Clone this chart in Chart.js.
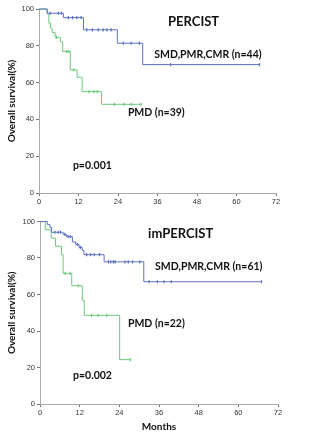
<!DOCTYPE html>
<html>
<head>
<meta charset="utf-8">
<script src="https://cdn.jsdelivr.net/npm/chart.js@4.4.0/dist/chart.umd.min.js"></script>
<style>
  html, body { margin: 0; padding: 0; background: #fff; }
  #wrap { position: relative; width: 330px; height: 440px; }
  canvas { position: absolute; left: 0; }
</style>
</head>
<body>
<div id="wrap">
  <canvas id="chartTop" width="330" height="215" style="top:0"></canvas>
  <canvas id="chartBottom" width="330" height="225" style="top:215px"></canvas>
</div>
<script>
// Eixos
const monthTicks = [0, 12, 24, 36, 48, 60, 72];
const survTicks = [0, 20, 40, 60, 80, 100];

// PERCIST - SMD,PMR,CMR (n=44)
const pGoodTimes = [0, 2.5, 7.4, 13.5, 23.8, 31.5];
const pGoodSurv = [100, 97.7, 95.3, 88.7, 81.4, 69.8];
const pGoodCensor = [3.4, 5.9, 6.8, 8.9, 10.2, 11.5, 12.8, 14.5, 16.2, 18, 19.5, 20.6, 21.9, 25.6, 28, 30.5, 40, 67];

// PERCIST - PMD (n=39)
const pPmdTimes = [0, 2.5, 3.0, 3.5, 4.0, 4.9, 6.5, 7.2, 9.5, 11.6, 13.1, 19];
const pPmdSurv = [100, 97.4, 92.3, 89.7, 87.2, 84.6, 82.1, 76.9, 66.9, 62.9, 55.1, 48.2];
const pPmdCensor = [5.3, 8.4, 9.1, 10.6, 15.2, 16.7, 17.7, 22.9, 25.9, 28, 31];

// imPERCIST - SMD,PMR,CMR (n=61)
const iGoodTimes = [0, 2.2, 3.0, 3.5, 7.0, 8.0, 9.8, 10.8, 11.8, 12.8, 13.3, 19.4, 31.4];
const iGoodSurv = [100, 98.4, 96.7, 94.1, 92.9, 91.7, 88.8, 87.4, 85.8, 84.1, 81.8, 77.9, 67.0];
const iGoodCensor = [4.5, 5.5, 6.2, 7.5, 8.5, 9.2, 11.3, 12.2, 14.1, 15.3, 16.4, 18, 20.7, 21.4, 22.2, 22.7, 25.7, 26.7, 28, 30.2, 33, 35.5, 37.5, 39.7, 67];

// imPERCIST - PMD (n=22)
const iPmdTimes = [0, 1.6, 3.4, 4.7, 6.5, 7.0, 9.6, 12.8, 13.4, 24.1];
const iPmdSurv = [100, 95.5, 90.9, 86.4, 81.8, 71.6, 64.8, 56.8, 48.6, 24.3];
const iPmdCensor = [7.6, 9.1, 11.6, 15.6, 17.6, 20.2, 27.3];

const BLUE = '#5b70c2';
const GREEN = '#6cc97c';
const FONT = 'Lato, "Liberation Sans", sans-serif';

/**
 * Valor da curva de sobrevida no tempo t (função degrau)
 */
function survAt(times, surv, t) {
    let s = surv[0];
    for (let i = 0; i < times.length; i++) {
        if (times[i] <= t) s = surv[i];
    }
    return s;
}

function curvePoints(times, surv, censor) {
    const pts = times.map((t, i) => ({ x: t, y: surv[i] }));
    const last = Math.max(...censor);
    pts.push({ x: last, y: surv[surv.length - 1] });
    return pts;
}

function censorPoints(times, surv, censor) {
    return censor.map(t => ({ x: t, y: survAt(times, surv, t) }));
}

function curveDatasets(times, surv, censor, color) {
    return [
        {
            type: 'line',
            data: curvePoints(times, surv, censor),
            borderColor: color,
            borderWidth: 1,
            stepped: 'before',
            pointRadius: 0,
            fill: false,
            clip: 4
        },
        {
            type: 'scatter',
            data: censorPoints(times, surv, censor),
            borderColor: color,
            backgroundColor: color,
            pointStyle: 'line',
            rotation: 90,
            pointRadius: 1.6,
            borderWidth: 1.2,
            clip: 4
        }
    ];
}

// Textos sobre o gráfico (posição em unidades dos eixos)
const textPlugin = {
    id: 'texts',
    afterDraw(chart, args, opts) {
        const ctx = chart.ctx;
        const xs = chart.scales.x, ys = chart.scales.y;
        ctx.save();
        ctx.fillStyle = '#111';
        ctx.textBaseline = 'middle';
        ctx.textAlign = 'left';
        opts.items.forEach(it => {
            ctx.font = 'bold ' + it.size + 'px ' + FONT;
            ctx.fillText(it.text, xs.getPixelForValue(it.x), ys.getPixelForValue(it.y));
        });
        ctx.restore();
    }
};

function makeChart(id, datasets, texts, cfg) {
    const tickFont = { family: '"Liberation Sans", Arial, sans-serif', size: 7.5 };
    return new Chart(document.getElementById(id), {
        data: { datasets: datasets },
        plugins: [textPlugin],
        options: {
            responsive: false,
            animation: false,
            layout: { padding: { left: 0, right: cfg.right, top: cfg.top, bottom: 0 } },
            plugins: {
                legend: { display: false },
                tooltip: { enabled: false },
                texts: { items: texts }
            },
            scales: {
                x: {
                    type: 'linear',
                    min: 0, max: 72,
                    afterBuildTicks: s => { s.ticks = monthTicks.map(v => ({ value: v })); },
                    afterFit: s => { s.height = cfg.xHeight; },
                    grid: { drawOnChartArea: false, drawTicks: true, tickLength: 3, tickColor: '#777' },
                    border: { color: '#aaa' },
                    ticks: { font: tickFont, color: '#333', padding: 1, maxRotation: 0 },
                    title: {
                        display: cfg.xTitle,
                        text: 'Months',
                        font: { family: FONT, size: 10, weight: 'bold' },
                        color: '#111',
                        padding: { top: 0, bottom: 7 }
                    }
                },
                y: {
                    min: 0, max: 100,
                    afterBuildTicks: s => { s.ticks = survTicks.map(v => ({ value: v })); },
                    afterFit: s => { s.width = cfg.yWidth; },
                    grid: { drawOnChartArea: false, drawTicks: true, tickLength: 3, tickColor: '#777' },
                    border: { color: '#aaa' },
                    ticks: { font: tickFont, color: '#333', padding: 2 },
                    title: {
                        display: true,
                        text: 'Overall survival(%)',
                        font: { family: FONT, size: 10, weight: 'bold' },
                        color: '#111',
                        padding: { top: 6, bottom: 0 }
                    }
                }
            }
        }
    });
}

makeChart('chartTop',
    [...curveDatasets(pGoodTimes, pGoodSurv, pGoodCensor, BLUE),
     ...curveDatasets(pPmdTimes, pPmdSurv, pPmdCensor, GREEN)],
    [
        { text: 'PERCIST', x: 39.2, y: 93, size: 13 },
        { text: 'SMD,PMR,CMR (n=44)', x: 35, y: 75, size: 10.5 },
        { text: 'PMD (n=39)', x: 27, y: 43.5, size: 10.5 },
        { text: 'p=0.001', x: 10.3, y: 14.7, size: 10.5 }
    ],
    { right: 54, top: 9, xHeight: 22, yWidth: 39, xTitle: false });

makeChart('chartBottom',
    [...curveDatasets(iGoodTimes, iGoodSurv, iGoodCensor, BLUE),
     ...curveDatasets(iPmdTimes, iPmdSurv, iPmdCensor, GREEN)],
    [
        { text: 'imPERCIST', x: 32.7, y: 93, size: 13 },
        { text: 'SMD,PMR,CMR (n=61)', x: 34.8, y: 75.1, size: 10.5 },
        { text: 'PMD (n=22)', x: 26.6, y: 43.8, size: 10.5 },
        { text: 'p=0.002', x: 10, y: 15.7, size: 10.5 }
    ],
    { right: 52, top: 4, xHeight: 36, yWidth: 40, xTitle: true });
</script>
</body>
</html>
